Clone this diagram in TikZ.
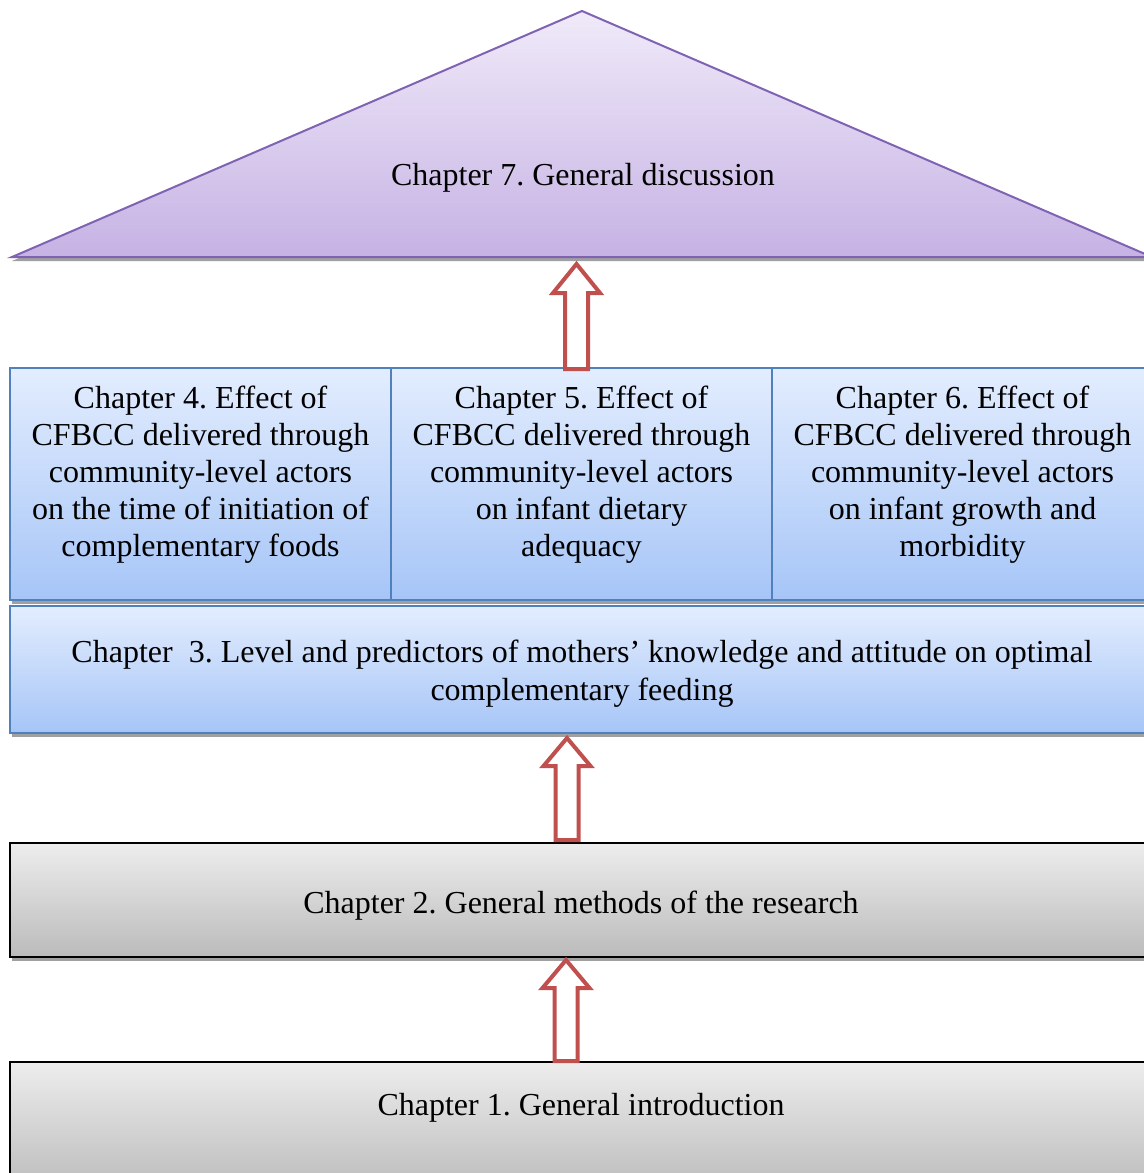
\documentclass[tikz,border=0pt]{standalone}
\usepackage{fontspec}
\setmainfont{Liberation Serif}
\usetikzlibrary{calc,shadows}
\definecolor{triline}{HTML}{7F63B2}
\definecolor{tritop}{HTML}{F0EAF9}
\definecolor{tribot}{HTML}{C6B2E4}
\definecolor{blueline}{HTML}{4F81BD}
\definecolor{bluetop}{HTML}{E3EDFE}
\definecolor{bluebot}{HTML}{A6C5F7}
\definecolor{graytop}{HTML}{EDEDED}
\definecolor{graybot}{HTML}{BBBBBB}
\definecolor{arrowred}{HTML}{C0504D}
\definecolor{shadowgray}{HTML}{A0A0A0}
\frenchspacing
\begin{document}
\begin{tikzpicture}[x=0.75pt,y=-0.75pt,
  every node/.style={font=\fontsize{24}{27.75}\selectfont},
  boxshadow/.style={general shadow={fill=shadowgray, shadow xshift=1.5pt, shadow yshift=-3pt}},
  bluebox/.style={rectangle, inner sep=0pt, draw=blueline, line width=1.5pt, top color=bluetop, bottom color=bluebot, boxshadow},
  graybox/.style={rectangle, inner sep=0pt, draw=black, line width=1.9pt, top color=graytop, bottom color=graybot, boxshadow},
  boxtext/.style={align=center, inner sep=0pt},
  blockarr/.style={draw=arrowred, fill=white, line width=3pt, line join=miter}
]
\useasboundingbox (0,0) rectangle (1144,1173);
\clip (0,0) rectangle (1144,1173);

% triangle (Chapter 7)
\fill[shadowgray] (12,261) -- (582,15) -- (1152,261) -- cycle;
\draw[draw=triline, line width=1.5pt, top color=tritop, bottom color=tribot]
  (12,257) -- (582,11) -- (1152,257) -- cycle;
\node[boxtext] (t7) at (583,178) {Chapter 7. General discussion};

% row of chapters 4-6
\node[bluebox, minimum width={381*0.75pt}, minimum height={232*0.75pt}] (b4) at (200.5,484) {};
\node[bluebox, minimum width={381*0.75pt}, minimum height={232*0.75pt}] (b5) at (581.5,484) {};
\node[bluebox, minimum width={381*0.75pt}, minimum height={232*0.75pt}] (b6) at (962.5,484) {};
\node[boxtext] (t4) at (200.5,475) {Chapter 4. Effect of\\CFBCC delivered through\\community-level actors\\on the time of initiation of\\complementary foods};
\node[boxtext] (t5) at (581.5,475) {Chapter 5. Effect of\\CFBCC delivered through\\community-level actors\\on infant dietary\\adequacy};
\node[boxtext] (t6) at (962.5,475) {Chapter 6. Effect of\\CFBCC delivered through\\community-level actors\\on infant growth and\\morbidity};

% chapter 3
\node[bluebox, minimum width={1144*0.75pt}, minimum height={127*0.75pt}] (b3) at (582,669.5) {};
\node[boxtext, font=\fontsize{24}{28.5}\selectfont] (t3) at (582,674) {Chapter\ \ 3. Level and predictors of mothers’ knowledge and attitude on optimal\\complementary feeding};

% chapter 2
\node[graybox, minimum width={1144*0.75pt}, minimum height={114*0.75pt}] (b2) at (582,900) {};
\node[boxtext] (t2) at (581,906) {Chapter 2. General methods of the research};

% chapter 1
\node[graybox, minimum width={1144*0.75pt}, minimum height={130*0.75pt}] (b1) at (582,1127) {};
\node[boxtext] (t1) at (581,1108) {Chapter 1. General introduction};

% block arrows
\coordinate (a1top) at (576.5,264);
\coordinate (a1bot) at (576.5,369);
\draw[blockarr] (a1top) -- ++(23.5,29) -- ++(-12,0) -- ($(a1bot)+(11.5,0)$) -- ($(a1bot)+(-11.5,0)$) -- ($(a1top)+(-11.5,29)$) -- ++(-12,0) -- cycle;

\coordinate (a2top) at (567,738);
\coordinate (a2bot) at (567,840);
\draw[blockarr] (a2top) -- ++(23.5,28) -- ++(-12,0) -- ($(a2bot)+(11.5,0)$) -- ($(a2bot)+(-11.5,0)$) -- ($(a2top)+(-11.5,28)$) -- ++(-12,0) -- cycle;

\coordinate (a3top) at (566,960);
\coordinate (a3bot) at (566,1061);
\draw[blockarr] (a3top) -- ++(23.5,28) -- ++(-12,0) -- ($(a3bot)+(11.5,0)$) -- ($(a3bot)+(-11.5,0)$) -- ($(a3top)+(-11.5,28)$) -- ++(-12,0) -- cycle;
\end{tikzpicture}
\end{document}
